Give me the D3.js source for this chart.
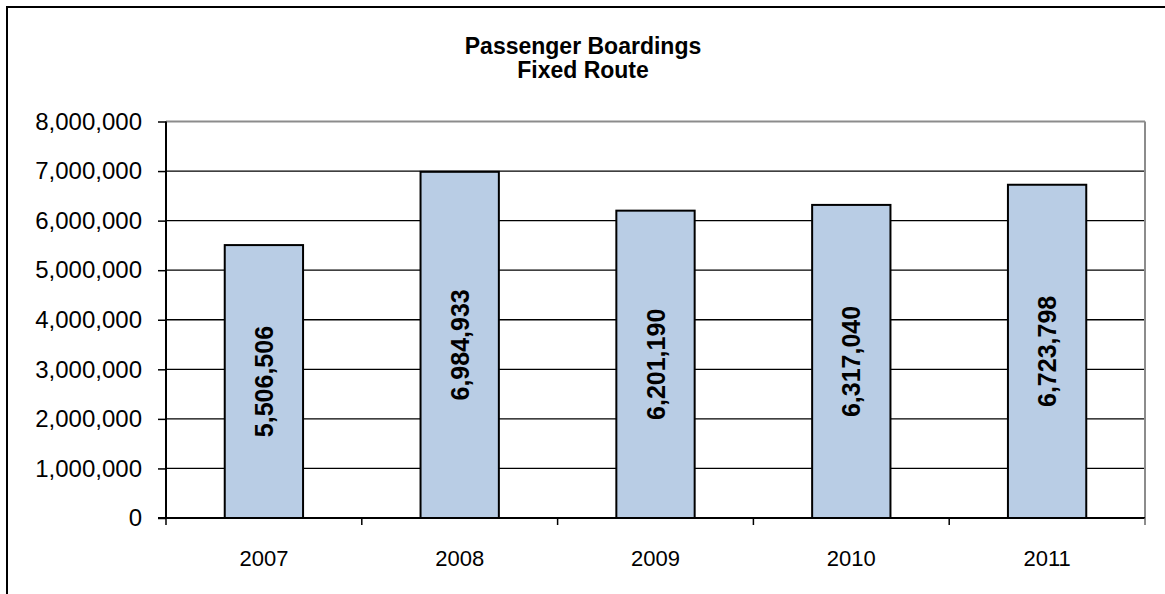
<!DOCTYPE html>
<html>
<head>
<meta charset="utf-8">
<script src="https://cdn.jsdelivr.net/npm/d3@7"></script>
<style>
  html, body { margin: 0; padding: 0; background: #fff; }
  svg { display: block; }
  text { font-family: "Liberation Sans", Arial, sans-serif; fill: #000; }
</style>
</head>
<body>
<svg id="chart" width="1165" height="594"></svg>
<script>
const categories = ["2007", "2008", "2009", "2010", "2011"];
const boardings = [5506506, 6984933, 6201190, 6317040, 6723798];
const yTicks = [0, 1000000, 2000000, 3000000, 4000000, 5000000, 6000000, 7000000, 8000000];
const titleLines = ["Passenger Boardings", "Fixed Route"];

const svg = d3.select("#chart");
const W = 1165, H = 594;
const plot = { left: 166, right: 1145, top: 121.5, bottom: 518 };

// outer border
svg.append("rect").attr("x", 7).attr("y", 7).attr("width", W + 10).attr("height", H + 10)
  .attr("fill", "none").attr("stroke", "#000").attr("stroke-width", 2);

const x = d3.scaleBand().domain(categories).range([plot.left, plot.right]).paddingInner(0.6).paddingOuter(0.3);
const xb = d3.scaleBand().domain(categories).range([plot.left, plot.right]).padding(0);
const y = d3.scaleLinear().domain([0, 8000000]).range([plot.bottom, plot.top]);
const fmt = d3.format(",");

// gridlines
svg.append("g").selectAll("line").data(yTicks.filter(d => d > 0)).join("line")
  .attr("x1", plot.left).attr("x2", plot.right)
  .attr("y1", d => y(d)).attr("y2", d => y(d))
  .attr("stroke", d => d === 8000000 ? "#8c8c8c" : "#000")
  .attr("stroke-width", d => d === 8000000 ? 2 : 1.3);
// right border
svg.append("line").attr("x1", plot.right).attr("x2", plot.right)
  .attr("y1", plot.top).attr("y2", plot.bottom).attr("stroke", "#8c8c8c").attr("stroke-width", 2);

// bars
svg.append("g").selectAll("rect").data(categories).join("rect")
  .attr("x", d => x(d)).attr("width", x.bandwidth())
  .attr("y", (d, i) => y(boardings[i])).attr("height", (d, i) => y(0) - y(boardings[i]))
  .attr("fill", "#b9cde5").attr("stroke", "#000").attr("stroke-width", 2);

// bar labels
svg.append("g").selectAll("text").data(categories).join("text")
  .attr("transform", (d, i) => `translate(${x(d) + x.bandwidth() / 2},${(y(boardings[i]) + y(0)) / 2}) rotate(-90)`)
  .attr("text-anchor", "middle").attr("dy", "0.36em")
  .attr("font-weight", "bold").attr("font-size", 25)
  .text((d, i) => fmt(boardings[i]));

// y axis
const yAxis = d3.axisLeft(y).tickValues(yTicks).tickFormat(fmt).tickSize(8).tickPadding(16);
const gy = svg.append("g").attr("transform", `translate(${plot.left},0)`).call(yAxis);
gy.select(".domain").remove();
gy.selectAll(".tick line").attr("stroke", "#000").attr("stroke-width", 1.5);
gy.selectAll(".tick text").attr("font-size", 24).attr("font-family", "Liberation Sans, Arial, sans-serif").attr("fill", "#000");
svg.append("line").attr("x1", plot.left).attr("x2", plot.left).attr("y1", plot.top).attr("y2", plot.bottom + 1)
  .attr("stroke", "#000").attr("stroke-width", 2);

// x axis
svg.append("line").attr("x1", plot.left - 8).attr("x2", plot.right).attr("y1", plot.bottom).attr("y2", plot.bottom)
  .attr("stroke", "#000").attr("stroke-width", 2);
const bounds = categories.map(c => xb(c)).concat([plot.right]);
svg.append("g").selectAll("line").data(bounds).join("line")
  .attr("x1", d => d).attr("x2", d => d).attr("y1", plot.bottom).attr("y2", plot.bottom + 7)
  .attr("stroke", (d, i) => i === bounds.length - 1 ? "#666" : "#000").attr("stroke-width", 1.5);
svg.append("g").selectAll("text").data(categories).join("text")
  .attr("x", d => xb(d) + xb.bandwidth() / 2).attr("y", 566)
  .attr("text-anchor", "middle").attr("font-size", 22).text(d => d);

// title
svg.append("g").selectAll("text").data(titleLines).join("text")
  .attr("x", 583).attr("y", (d, i) => 54 + i * 24)
  .attr("text-anchor", "middle").attr("font-weight", "bold").attr("font-size", 23)
  .text(d => d);
</script>
</body>
</html>
